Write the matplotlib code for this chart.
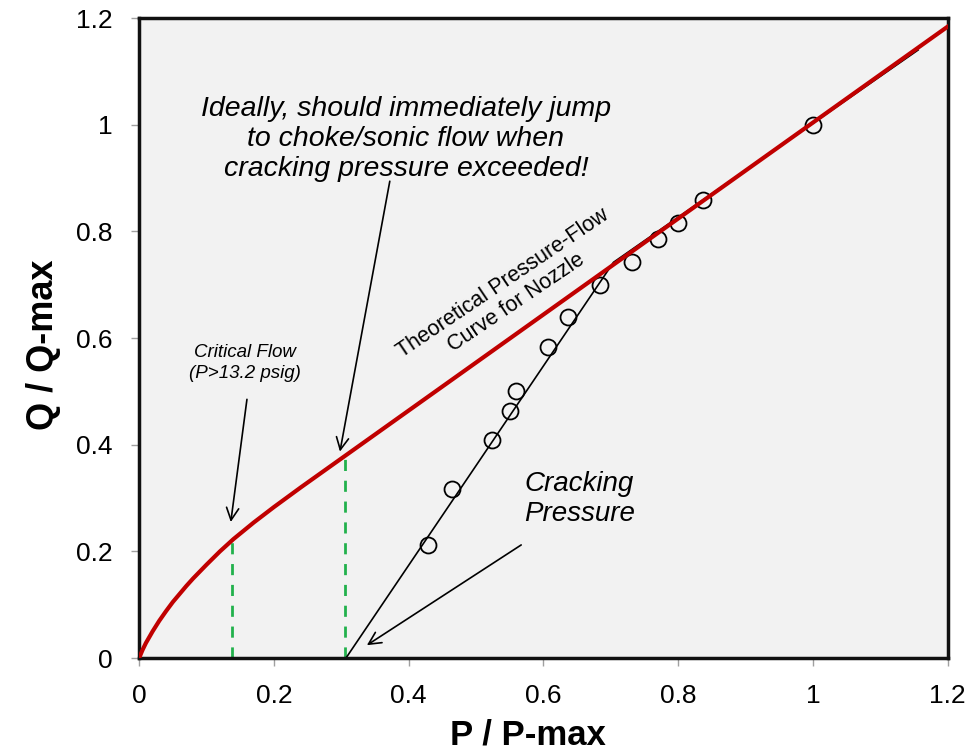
import matplotlib
matplotlib.use('Agg')
import matplotlib.pyplot as plt

plt.rcParams['font.family'] = ['Liberation Sans', 'DejaVu Sans']

C_RED = '#c00000'
C_GREEN = '#22b14c'
C_BG = '#f2f2f2'

# 理论压力-流量曲线
theory_x = [0, 0.005, 0.01, 0.02, 0.03, 0.04, 0.05, 0.06, 0.07, 0.08, 0.10, 0.12, 0.14,
            0.17, 0.20, 0.24, 0.28, 0.32, 0.4, 0.6, 0.8, 1.0, 1.2]
theory_y = [0, 0.015, 0.028, 0.050, 0.070, 0.088, 0.105, 0.120, 0.135, 0.149, 0.175, 0.200, 0.223,
            0.254, 0.283, 0.320, 0.356, 0.392, 0.464, 0.644, 0.824, 1.004, 1.184]

# 实测点
meas_x = [0.428, 0.465, 0.523, 0.551, 0.560, 0.607, 0.636, 0.684, 0.732, 0.770, 0.800, 0.837, 1.0]
meas_y = [0.212, 0.317, 0.409, 0.464, 0.501, 0.584, 0.640, 0.700, 0.742, 0.785, 0.815, 0.858, 1.0]

# 拟合线 (开启压力起点)
fit_x = [0.307, 0.704, 1.156]
fit_y = [0, 0.742, 1.140]

# 绿色虚线位置
crit_x = [0.138, 0.305]
crit_y = [0.223, 0.385]

ticks = [0, 0.2, 0.4, 0.6, 0.8, 1, 1.2]
tick_labels = ['0', '0.2', '0.4', '0.6', '0.8', '1', '1.2']

fig = plt.figure(figsize=(9.73, 7.52), dpi=100)
ax = fig.add_axes([0.143, 0.125, 0.831, 0.851])
ax.set_facecolor(C_BG)

ax.plot(fit_x, fit_y, '-', color='black', linewidth=1.2, zorder=2)
ax.plot(meas_x, meas_y, 'o', markersize=11.5, markerfacecolor='none',
        markeredgecolor='black', markeredgewidth=1.3, zorder=3)
ax.plot(theory_x, theory_y, '-', color=C_RED, linewidth=3, zorder=4,
        solid_joinstyle='round')
for cx, cy in zip(crit_x, crit_y):
    ax.plot([cx, cx], [0, cy], '--', color=C_GREEN, linewidth=2,
            dashes=(4, 3.5), zorder=1)

ax.set_xlim(0, 1.2)
ax.set_ylim(0, 1.2)
ax.set_xticks(ticks)
ax.set_yticks(ticks)
ax.set_xticklabels(tick_labels)
ax.set_yticklabels(tick_labels)
ax.tick_params(direction='out', length=6, width=1, color='#a0a0a0',
               labelsize=19, pad=13)
for s in ax.spines.values():
    s.set_linewidth(2.5)
    s.set_color('#111111')

ax.set_xlabel('P / P-max', fontsize=25, fontweight='bold')
ax.set_ylabel('Q / Q-max', fontsize=26, fontweight='bold')
ax.xaxis.set_label_coords(0.481, -0.095)
ax.yaxis.set_label_coords(-0.097, 0.489)

arrow = dict(arrowstyle='->', color='black', linewidth=1.2,
             mutation_scale=22, shrinkA=0, shrinkB=0)

ax.text(0.396, 0.973, 'Ideally, should immediately jump\nto choke/sonic flow when\n'
        'cracking pressure exceeded!', ha='center', va='center',
        fontsize=20.5, style='italic', linespacing=1.2)
ax.annotate('', xy=(0.298, 0.387), xytext=(0.372, 0.894), arrowprops=arrow)

ax.text(0.157, 0.554, 'Critical Flow\n(P>13.2 psig)', ha='center', va='center',
        fontsize=13.5, style='italic', linespacing=1.3)
ax.annotate('', xy=(0.136, 0.255), xytext=(0.160, 0.485), arrowprops=arrow)

ax.text(0.55, 0.684, 'Theoretical Pressure-Flow\nCurve for Nozzle', ha='center',
        va='center', fontsize=15.5, rotation=34, rotation_mode='anchor',
        linespacing=1.15)

ax.text(0.572, 0.299, 'Cracking\nPressure', ha='left', va='center',
        fontsize=20, style='italic', linespacing=1.2)
ax.annotate('', xy=(0.338, 0.024), xytext=(0.567, 0.212), arrowprops=arrow)

fig.savefig('out.png', dpi=100)
